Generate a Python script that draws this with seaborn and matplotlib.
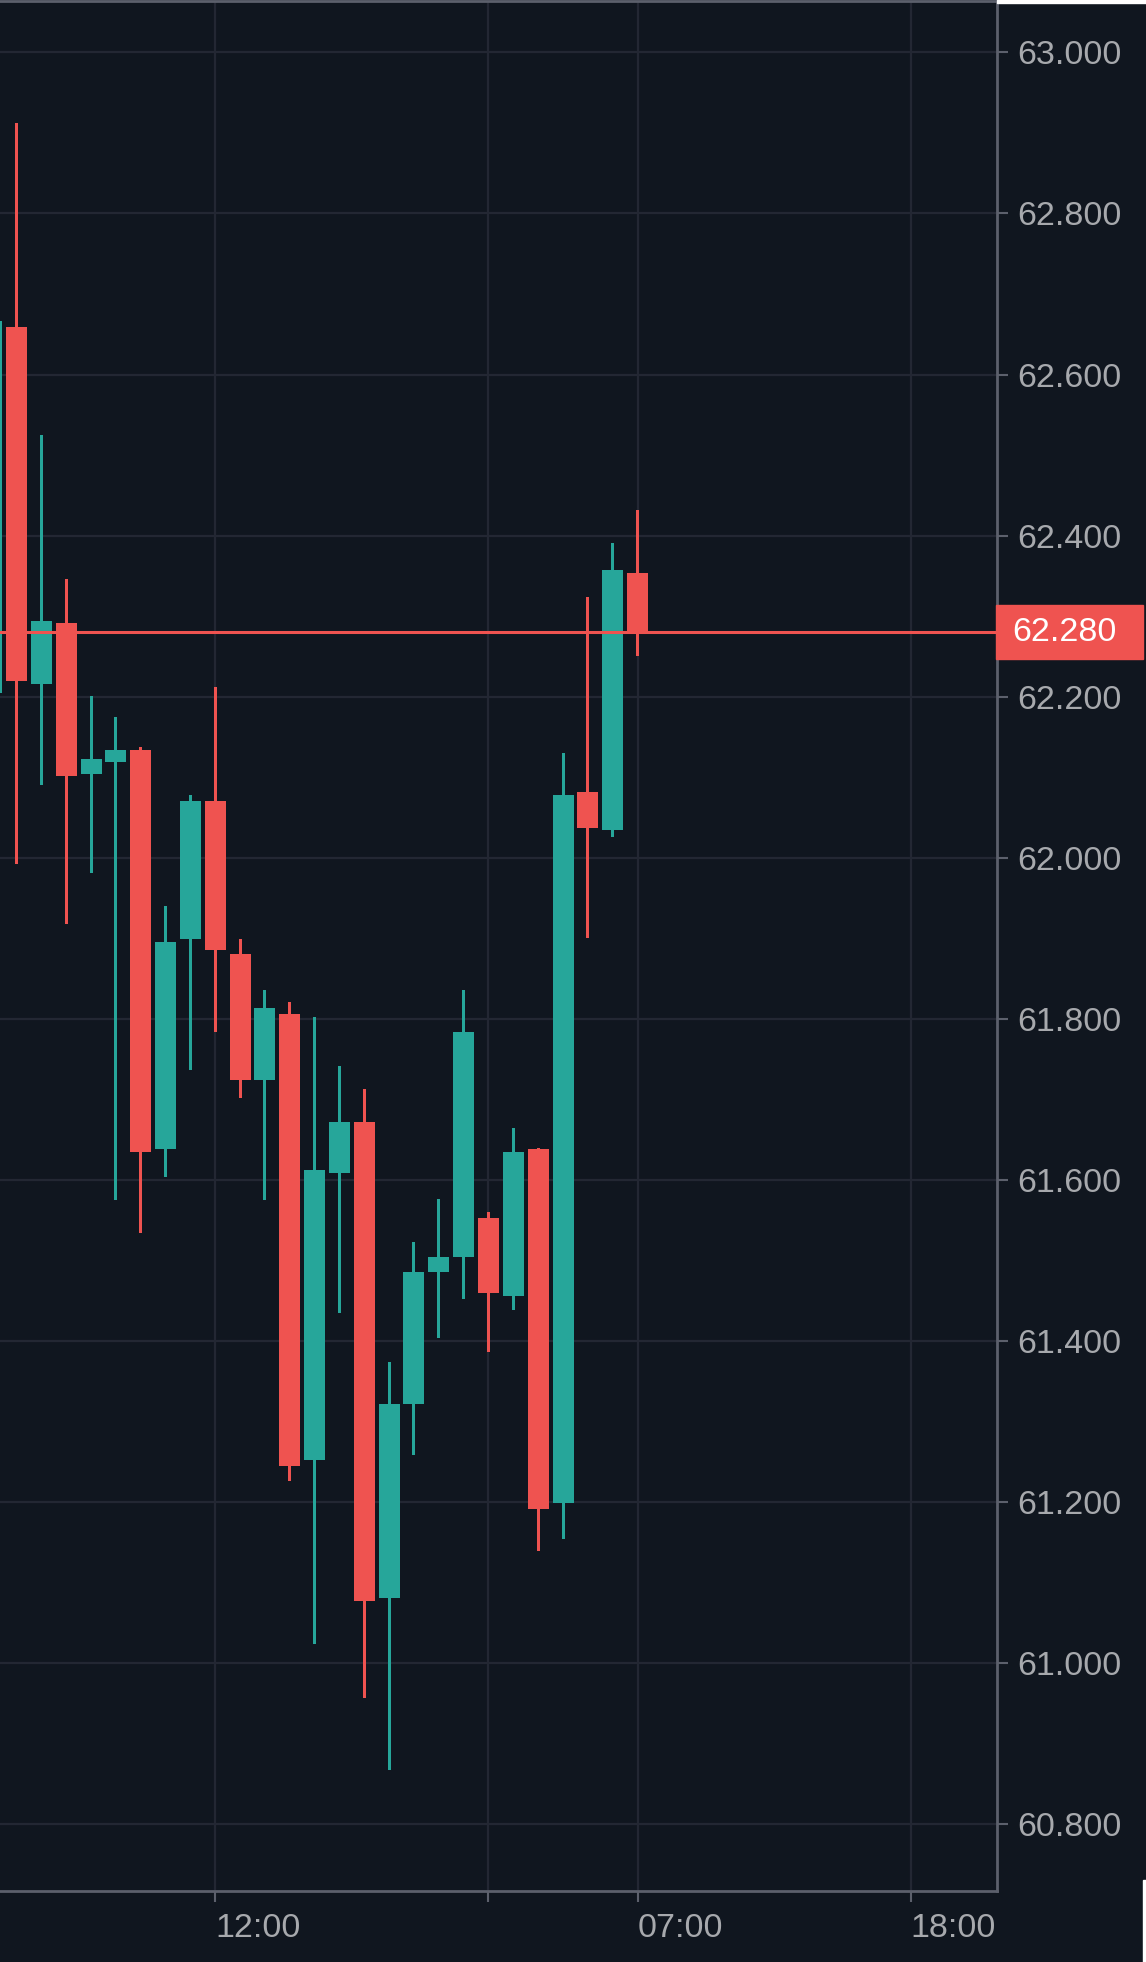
import numpy as np
import pandas as pd
import matplotlib
matplotlib.use('Agg')
import matplotlib.pyplot as plt
import seaborn as sns
from matplotlib.patches import Rectangle

# candle data (first candle is only partly visible at the left edge)
opens = [62.205, 62.659, 62.216, 62.291, 62.104, 62.119, 62.134, 61.638, 61.899, 62.071,
         61.881, 61.724, 61.806, 61.252, 61.609, 61.672, 61.081, 61.322, 61.486, 61.504,
         61.553, 61.456, 61.639, 61.199, 62.082, 62.034, 62.354]
highs = [62.700, 62.912, 62.525, 62.346, 62.201, 62.175, 62.138, 61.940, 62.078, 62.212,
         61.899, 61.836, 61.821, 61.802, 61.742, 61.713, 61.374, 61.523, 61.576, 61.836,
         61.560, 61.664, 61.640, 62.130, 62.324, 62.391, 62.432]
lows = [62.180, 61.992, 62.090, 61.918, 61.981, 61.575, 61.534, 61.604, 61.736, 61.784,
        61.702, 61.575, 61.226, 61.024, 61.435, 60.957, 60.867, 61.259, 61.404, 61.452,
        61.386, 61.438, 61.139, 61.154, 61.900, 62.026, 62.250]
closes = [62.667, 62.219, 62.294, 62.101, 62.123, 62.134, 61.635, 61.895, 62.071, 61.885,
          61.724, 61.814, 61.245, 61.612, 61.672, 61.077, 61.322, 61.486, 61.504, 61.784,
          61.460, 61.635, 61.192, 62.078, 62.037, 62.357, 62.280]

time_ticks = [9, 20, 26, 37]
time_labels = ['12:00', '', '07:00', '18:00']
price_ticks = [60.8, 61.0, 61.2, 61.4, 61.6, 61.8, 62.0, 62.2, 62.4, 62.6, 62.8, 63.0]

BG = '#10161f'
GRID = '#232733'
AXIS = '#5c606c'
TXT = '#a7a9ad'
UP = '#26a69a'
DOWN = '#ef5350'

df = pd.DataFrame({'open': opens, 'high': highs, 'low': lows, 'close': closes})
df['x'] = np.arange(len(df))
df['up'] = df['close'] >= df['open']
df['color'] = np.where(df['up'], UP, DOWN)
df['body_lo'] = df[['open', 'close']].min(axis=1)
df['body_h'] = (df['open'] - df['close']).abs()

sns.set_theme(style='dark', rc={'axes.facecolor': BG, 'figure.facecolor': BG})
plt.rcParams['font.family'] = ['Liberation Sans', 'DejaVu Sans']

W, H = 1146, 1962
fig = plt.figure(figsize=(W / 100, H / 100), dpi=100)
ax = fig.add_axes([0, 71 / H, 997 / W, 1 - 72 / H])
ax.set_facecolor(BG)

# wicks and bodies
ax.bar(df['x'], df['high'] - df['low'], bottom=df['low'], width=3 / 24.84,
       color=df['color'], linewidth=0, zorder=3)
ax.bar(df['x'], df['body_h'], bottom=df['body_lo'], width=21 / 24.84,
       color=df['color'], linewidth=0, zorder=4)

ax.set_xlim(0.336, 40.47)
ax.set_ylim(60.7173, 63.0637)

ax.set_xticks(time_ticks)
ax.set_xticklabels(time_labels, ha='left')
ax.set_yticks(price_ticks)
ax.set_yticklabels([f'{v:.3f}' for v in price_ticks])
ax.yaxis.tick_right()

ax.grid(True, color=GRID, linewidth=1.6, zorder=0)
ax.tick_params(axis='both', colors=AXIS, labelcolor=TXT, labelsize=24.5,
               length=7.9, width=1.5, direction='out')
ax.tick_params(axis='x', pad=8)
ax.tick_params(axis='y', pad=7)
ax.tick_params(left=False, bottom=True, right=True)

ax.spines['left'].set_visible(False)
for side in ['right', 'bottom', 'top']:
    ax.spines[side].set_visible(True)
    ax.spines[side].set_color(AXIS)
    ax.spines[side].set_linewidth(2)

# last price line and label
last = closes[-1]
ax.axhline(last, color=DOWN, linewidth=2.2, zorder=5)
box_h = 54 / 805.5
ax.add_patch(Rectangle((0.999, last - box_h / 2), 147 / 997, box_h,
                       transform=ax.get_yaxis_transform(), color=DOWN,
                       clip_on=False, zorder=6))
ax.text(1012 / 997, last, f'{last:.3f}', transform=ax.get_yaxis_transform(),
        color='white', fontsize=24.5, va='center', ha='left', zorder=7, clip_on=False)

# small white crop edges like the screenshot
fig.patches.append(Rectangle((997 / W, 1 - 3 / H), 1, 3 / H, transform=fig.transFigure,
                             color='white', zorder=10))
fig.patches.append(Rectangle((1143 / W, 0), 3 / W, 82 / H, transform=fig.transFigure,
                             color='white', zorder=10))

fig.savefig('out.png', dpi=100, facecolor=BG)
